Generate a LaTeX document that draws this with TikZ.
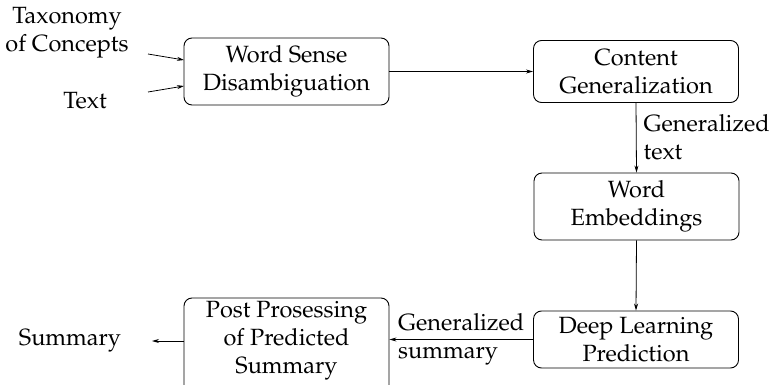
\documentclass[tikz,border=0pt]{standalone}
\usepackage[T1]{fontenc}
\usepackage{mathpazo}
\usetikzlibrary{arrows.meta}
\begin{document}
\begin{tikzpicture}[x=1pt,y=-1pt,
  every node/.style={font=\fontsize{23.5}{28}\selectfont, align=center, inner sep=0pt},
  proc/.style={draw, rounded corners=8pt, line width=0.9pt, minimum width=205pt},
  conn/.style={line width=0.8pt, -{Stealth[length=7pt,width=4pt]}}]
\useasboundingbox (0,0) rectangle (773,385);
\node[proc, minimum height=67pt] (wsd) at (286.5,71.5) {Word Sense\\Disambiguation};
\node[proc, minimum height=62pt] (cg) at (636,71.5) {Content\\Generalization};
\node[proc, minimum height=67pt] (we) at (636.5,206.5) {Word\\Embeddings};
\node[proc, minimum height=57pt] (dlp) at (636,339.5) {Deep Learning\\Prediction};
\node[proc, minimum height=96pt] (pp) at (286.5,346) {};
\node (ppt) at (286.5,341) {Post Prosessing\\of Predicted\\Summary};
\node (tax) at (67,33) {Taxonomy\\of Concepts};
\node (txt) at (85,101) {Text};
\node (sum) at (70,341) {Summary};
\coordinate (t1) at (148,54);
\coordinate (t2) at (148,92);
\coordinate (w1) at (184,60);
\coordinate (w2) at (184,86);
\coordinate (s1) at (152,341);
\draw[conn] (t1) -- (w1);
\draw[conn] (t2) -- (w2);
\draw[conn] (wsd.east) -- (cg.west);
\draw[conn] (cg.south) -- node[right=7pt, align=left, anchor=west] {Generalized\\text} (we.north);
\draw[conn] (we.south) -- (dlp.north);
\draw[conn] (dlp.west) -- node[anchor=center, align=left] {Generalized\\summary} (pp.east |- dlp.west);
\draw[conn] (pp.west |- sum) -- (s1);
\end{tikzpicture}
\end{document}
